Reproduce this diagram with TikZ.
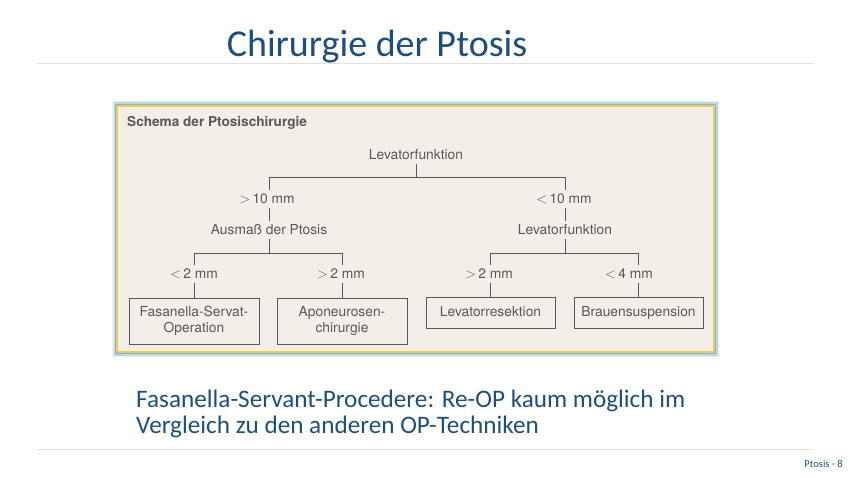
\documentclass[tikz,border=0pt]{standalone}
\usepackage{fontspec}
\setmainfont{Carlito}
\newfontfamily\schemafont{TeX Gyre Heros}
\usepackage{xcolor}
\usetikzlibrary{positioning, calc}

\definecolor{titleblue}{RGB}{31,78,121}
\definecolor{paper}{RGB}{243,239,232}
\definecolor{ink}{RGB}{88,88,88}
\definecolor{frameyellow}{RGB}{242,204,70}
\definecolor{glowblue}{RGB}{91,155,213}
\definecolor{rulegray}{RGB}{225,225,225}

\begin{document}
\begin{tikzpicture}[
  x=1pt, y=-1pt,
  every node/.style={inner sep=0pt, anchor=center},
  lbl/.style={font=\schemafont\fontsize{13.8}{16}\selectfont, text=ink, fill=paper, inner xsep=1pt, inner ysep=4pt},
  box/.style={draw=ink, line width=0.9pt, fill=paper, font=\schemafont\fontsize{13.8}{16}\selectfont,
              text=ink, align=center},
  leaf/.style={box, minimum height=31pt, text height=10pt, text depth=3pt},
  tall/.style={box, minimum height=46pt},
  tree/.style={draw=ink, line width=0.9pt}
]
  \useasboundingbox (0,0) rectangle (850,478);
  % ----- slide title and rules -----
  \node[text=titleblue, font=\fontsize{38}{40}\selectfont] (title) at (377,47) {Chirurgie der Ptosis};
  \draw[rulegray, line width=0.8pt] (37,63) -- (813,63);
  \draw[rulegray, line width=0.8pt] (37,449) -- (813,449);
  \node[text=titleblue, font=\fontsize{10.5}{12}\selectfont, anchor=east] (pageno) at (843,464) {Ptosis - 8};
  % ----- scanned scheme: frame -----
  \foreach \w/\o in {10/0.15, 7/0.3, 4/0.6}
    \draw[glowblue, opacity=\o, line width=\w pt] (117,106) rectangle (714,352);
  \fill[paper] (117,106) rectangle (714,352);
  \draw[frameyellow, line width=2pt] (117,106) rectangle (714,352);
  \node[anchor=west, text=ink, font=\schemafont\bfseries\fontsize{13.6}{16}\selectfont] (head) at (127,123) {Schema der Ptosischirurgie};
  % ----- decision nodes -----
  \node[lbl] (lev) at (416,155) {Levatorfunktion};
  \node[lbl] (aus) at (269,230) {Ausmaß der Ptosis};
  \node[lbl] (lev2) at (565,230) {Levatorfunktion};
  % ----- leaves -----
  \node[tall, minimum width=130pt] (fas) at (194,321) {Fasanella-Servat-\\Operation};
  \node[tall, minimum width=130pt] (apo) at (342,321) {Aponeurosen-\\chirurgie};
  \node[leaf, minimum width=129pt] (res) at (490.5,313) {Levatorresektion};
  \node[leaf, minimum width=129pt] (brau) at (638.5,313) {Brauensuspension};
  % ----- branches -----
  \coordinate (fork0) at (416,177);
  \coordinate (fork1) at (269,253);
  \coordinate (fork2) at (565,253);
  \draw[tree] (lev.south) -- (fork0) -| (aus.north);
  \draw[tree] (fork0) -| (lev2.north);
  \draw[tree] (aus.south) -- (fork1) -| (fas.north);
  \draw[tree] (fork1) -| (apo.north);
  \draw[tree] (lev2.south) -- (fork2) -| (res.north);
  \draw[tree] (fork2) -| (brau.north);
  % ----- branch labels (sit on the lines) -----
  \node[lbl] (gt10) at (267,199) {$>$\,10 mm};
  \node[lbl] (lt10) at (564,199) {$<$\,10 mm};
  \node[lbl] (lt2) at (194,274) {$<$\,2 mm};
  \node[lbl] (gt2a) at (341,274) {$>$\,2 mm};
  \node[lbl] (gt2b) at (489,274) {$>$\,2 mm};
  \node[lbl] (lt4) at (629,274) {$<$\,4 mm};
  % ----- note below the scheme -----
  \node[anchor=north west, align=left, text=titleblue, font=\fontsize{25.2}{26}\selectfont] (note) at (136,390)
    {Fasanella-Servant-Procedere: Re-OP kaum möglich im\\Vergleich zu den anderen OP-Techniken};
\end{tikzpicture}
\end{document}
